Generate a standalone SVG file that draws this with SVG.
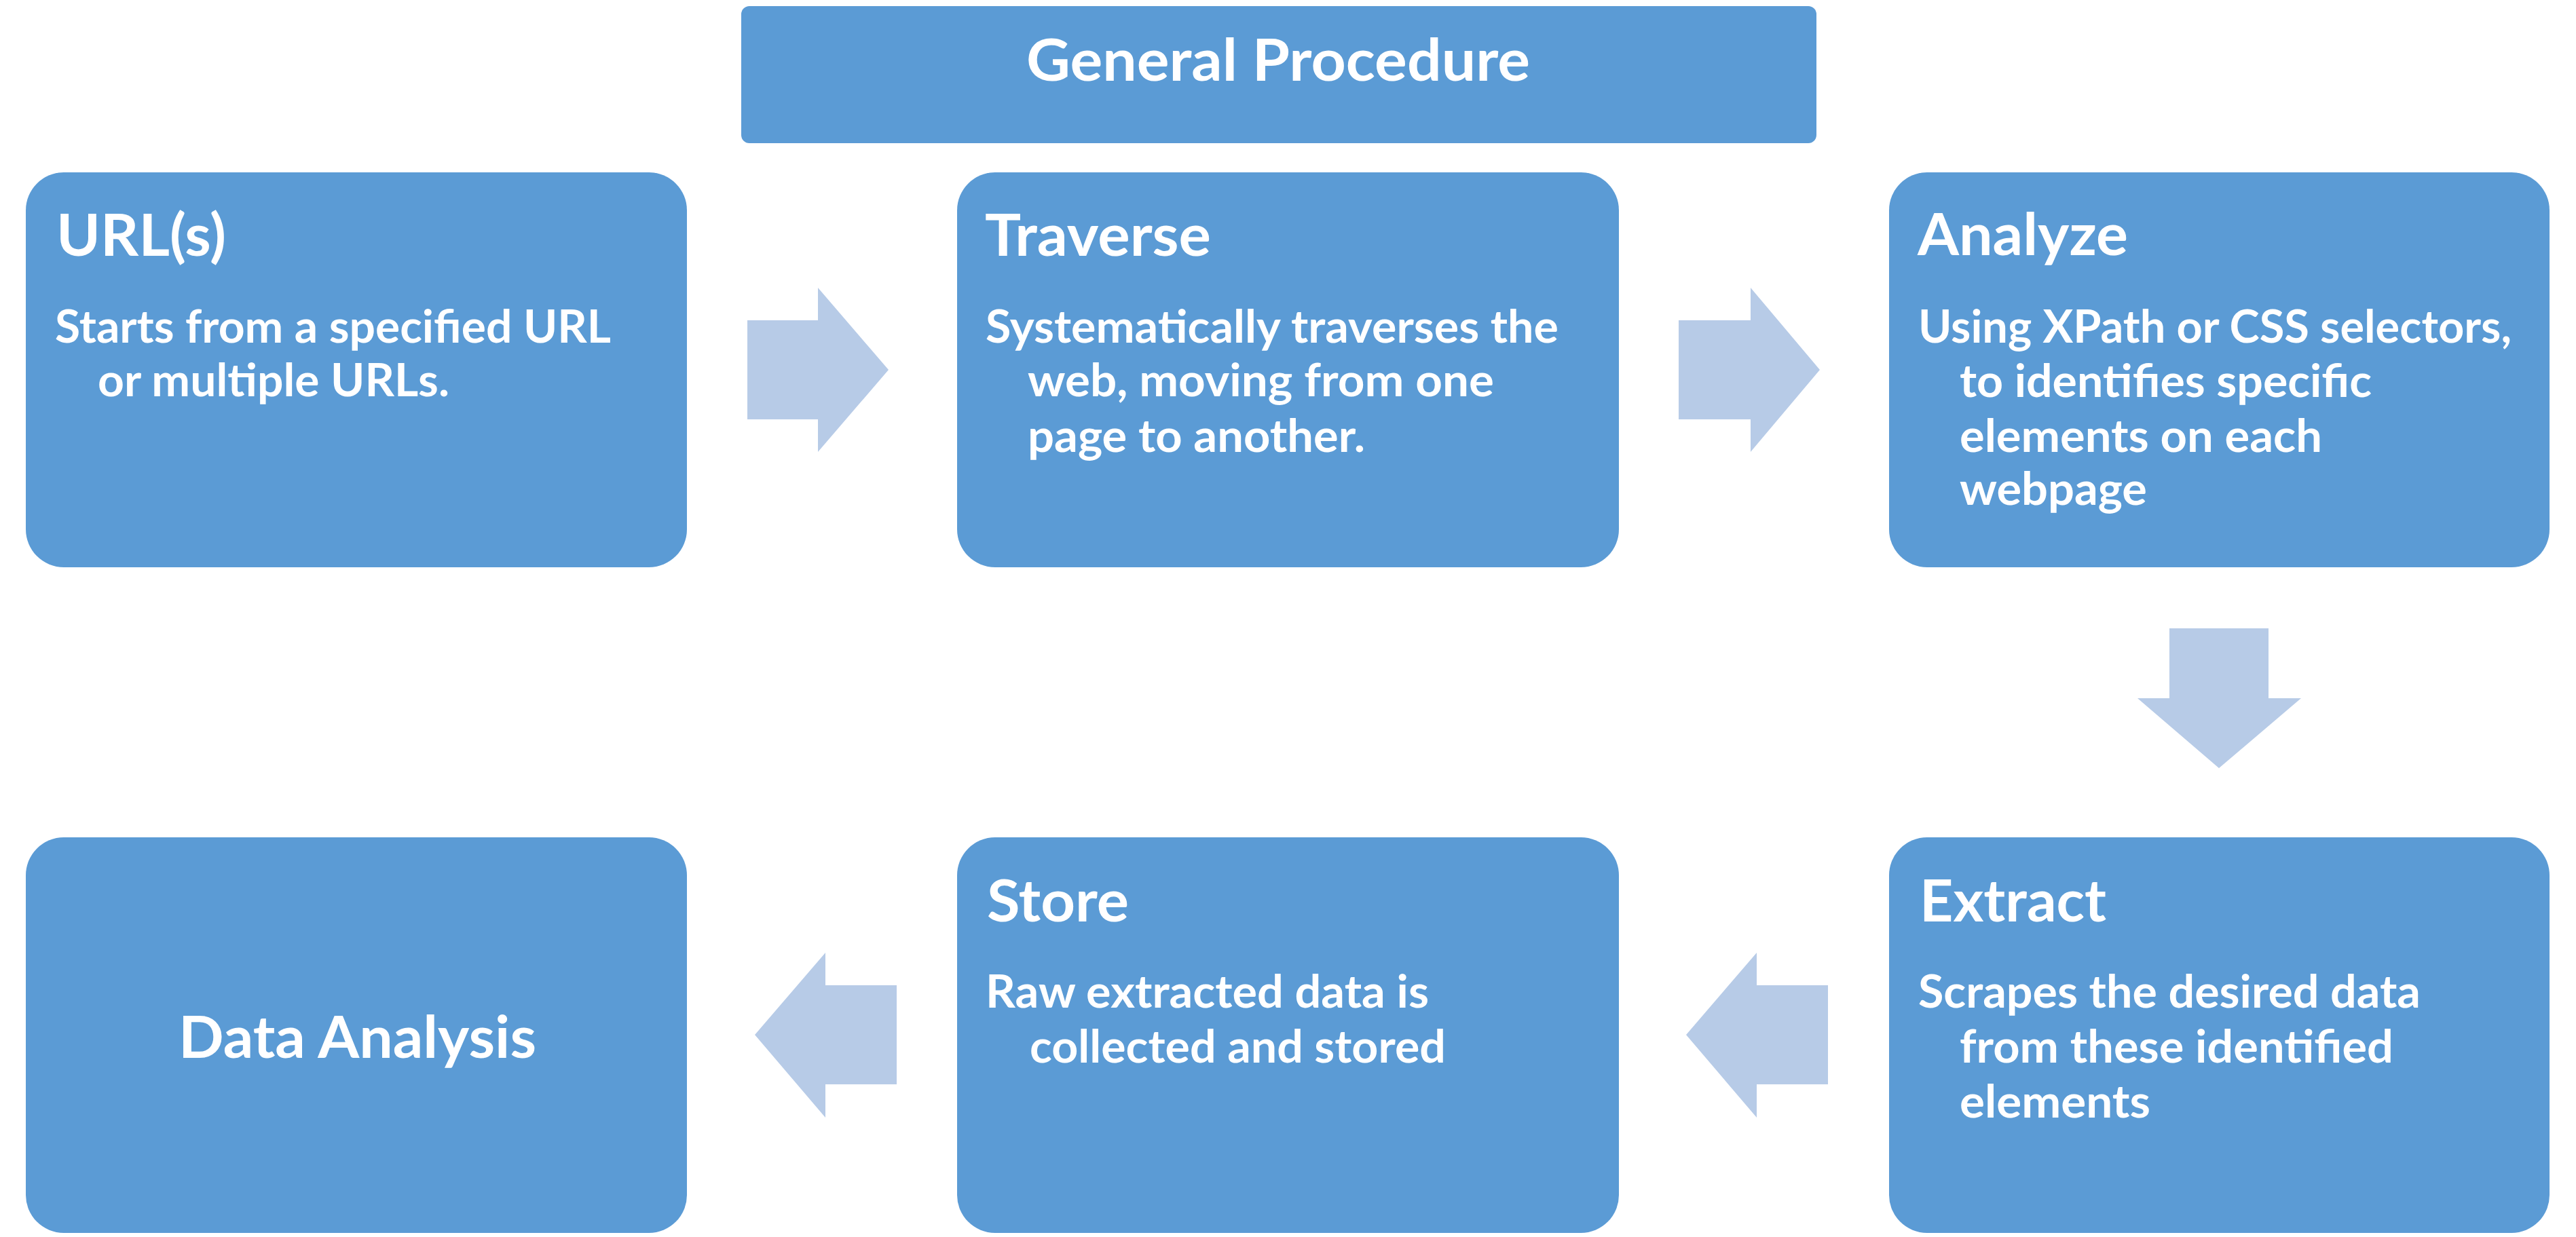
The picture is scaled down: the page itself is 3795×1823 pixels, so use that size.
<svg xmlns="http://www.w3.org/2000/svg" width="3795" height="1823" viewBox="0 0 3795 1823">
<style>
.box{fill:#5B9BD5}
.arr{fill:#B7CBE7}
text{font-family:"Lato","Liberation Sans",sans-serif;font-weight:bold;fill:#FFFFFF}
.h{font-size:86px}
.b{font-size:66px}
</style>
<rect width="3795" height="1823" fill="#FFFFFF"/>
<g id="connectors">
<polygon class="arr" points="1101,472 1205,472 1205,424 1309,545 1205,666 1205,618 1101,618"/>
<polygon class="arr" points="2473,472 2579,472 2579,424 2681,545 2579,666 2579,618 2473,618"/>
<polygon class="arr" points="3196,926 3342,926 3342,1029 3390,1029 3269,1132 3149,1029 3196,1029"/>
<polygon class="arr" points="2693,1452 2588,1452 2588,1404 2484,1525 2588,1647 2588,1598 2693,1598"/>
<polygon class="arr" points="1321,1452 1216,1452 1216,1404 1112,1525 1216,1647 1216,1598 1321,1598"/>
</g>
<g id="title">
<rect class="box" x="1092" y="9" width="1584" height="202" rx="12"/>
<text class="h" x="1512" y="119" textLength="742" lengthAdjust="spacingAndGlyphs">General Procedure</text>
</g>
<g id="url">
<rect class="box" x="38" y="254" width="974" height="582" rx="56"/>
<text class="h" x="83" y="377" textLength="250" lengthAdjust="spacingAndGlyphs">URL(s)</text>
<text class="b" x="81" y="505" textLength="819" lengthAdjust="spacingAndGlyphs">Starts from a specified URL</text>
<text class="b" x="144" y="584" textLength="518" lengthAdjust="spacingAndGlyphs">or multiple URLs.</text>
</g>
<g id="traverse">
<rect class="box" x="1410" y="254" width="975" height="582" rx="56"/>
<text class="h" x="1451" y="377" textLength="333" lengthAdjust="spacingAndGlyphs">Traverse</text>
<text class="b" x="1452" y="505" textLength="844" lengthAdjust="spacingAndGlyphs">Systematically traverses the</text>
<text class="b" x="1514" y="584" textLength="687" lengthAdjust="spacingAndGlyphs">web, moving from one</text>
<text class="b" x="1514" y="666" textLength="497" lengthAdjust="spacingAndGlyphs">page to another.</text>
</g>
<g id="analyze">
<rect class="box" x="2783" y="254" width="973" height="582" rx="56"/>
<text class="h" x="2825" y="376" textLength="310" lengthAdjust="spacingAndGlyphs">Analyze</text>
<text class="b" x="2826" y="505" textLength="874" lengthAdjust="spacingAndGlyphs">Using XPath or CSS selectors,</text>
<text class="b" x="2887" y="585" textLength="607" lengthAdjust="spacingAndGlyphs">to identifies specific</text>
<text class="b" x="2887" y="666" textLength="534" lengthAdjust="spacingAndGlyphs">elements on each</text>
<text class="b" x="2887" y="744" textLength="276" lengthAdjust="spacingAndGlyphs">webpage</text>
</g>
<g id="extract">
<rect class="box" x="2783" y="1234" width="973" height="583" rx="56"/>
<text class="h" x="2828" y="1358" textLength="275" lengthAdjust="spacingAndGlyphs">Extract</text>
<text class="b" x="2826" y="1485" textLength="740" lengthAdjust="spacingAndGlyphs">Scrapes the desired data</text>
<text class="b" x="2887" y="1566" textLength="639" lengthAdjust="spacingAndGlyphs">from these identified</text>
<text class="b" x="2887" y="1647" textLength="281" lengthAdjust="spacingAndGlyphs">elements</text>
</g>
<g id="store">
<rect class="box" x="1410" y="1234" width="975" height="583" rx="56"/>
<text class="h" x="1454" y="1358" textLength="209" lengthAdjust="spacingAndGlyphs">Store</text>
<text class="b" x="1452" y="1485" textLength="653" lengthAdjust="spacingAndGlyphs">Raw extracted data is</text>
<text class="b" x="1517" y="1566" textLength="613" lengthAdjust="spacingAndGlyphs">collected and stored</text>
</g>
<g id="data-analysis">
<rect class="box" x="38" y="1234" width="974" height="583" rx="56"/>
<text class="h" x="263" y="1559" textLength="527" lengthAdjust="spacingAndGlyphs">Data Analysis</text>
</g>
</svg>
